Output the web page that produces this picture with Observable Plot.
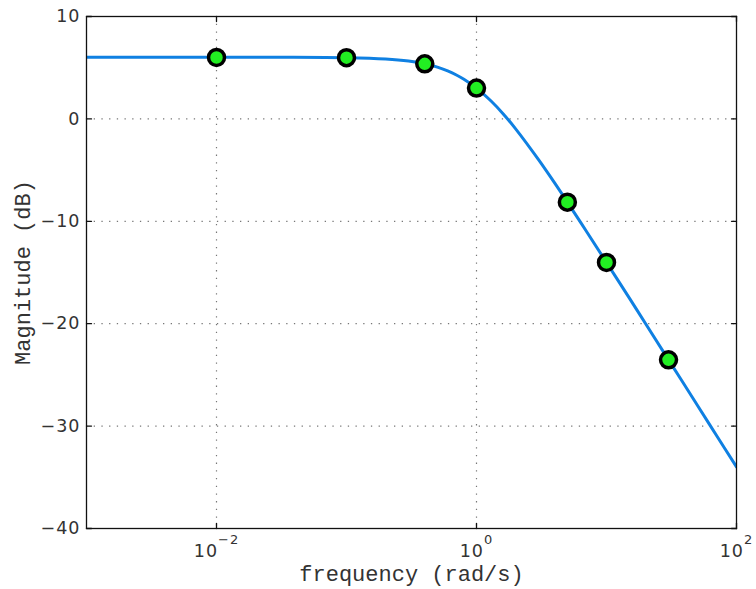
<!DOCTYPE html>
<html>
<head>
<meta charset="utf-8">
<script src="https://cdn.jsdelivr.net/npm/d3@7"></script>
<script src="https://cdn.jsdelivr.net/npm/@observablehq/plot@0.6"></script>
<style>
  html, body { margin: 0; padding: 0; background: #fff; }
  g[aria-label="y-axis tick label"] text, g[aria-label="x-axis tick label"] text { letter-spacing: 1px; }
</style>
</head>
<body>
<div id="chart"></div>
<script>
// Curve (frequency in rad/s, magnitude in dB)
const curveFreq = [0.001, 0.003, 0.01, 0.03, 0.1, 0.2, 0.3, 0.4, 0.5, 0.6, 0.7, 0.8, 1, 1.3, 1.6, 2, 3, 4, 5, 7, 10, 15, 20, 30, 50, 70, 100];
const curveMag  = [6.02, 6.02, 6.02, 6.02, 5.98, 5.85, 5.65, 5.38, 5.05, 4.68, 4.29, 3.87, 3.01, 1.72, 0.51, -0.97, -3.98, -6.28, -8.13, -10.97, -14.02, -17.5, -20.01, -23.53, -27.96, -30.9, -33.98];

// Marked points
const ptFreq = [0.01, 0.1, 0.4, 1, 5, 10, 30];
const ptMag  = [6.0, 5.98, 5.38, 3.01, -8.13, -14.02, -23.53];

// Ticks
const xTicks = [0.01, 1, 100];
const xTickBase = ["10", "10", "10"];
const xTickExp = ["\u22122", "0", "2"];
const yTicks = [10, 0, -10, -20, -30, -40];
const yGrid = [0, -10, -20, -30];
const xGrid = [0.01, 1];

const curve = curveFreq.map((f, i) => ({f, m: curveMag[i]}));
const points = ptFreq.map((f, i) => ({f, m: ptMag[i]}));

const tickShape = { draw(context, l) { context.moveTo(0, 0); context.lineTo(0, -l); } };
const tickFont = "DejaVu Sans";
const labelFont = "Liberation Mono";

const chart = Plot.plot({
  width: 756,
  height: 589,
  marginLeft: 86,
  marginRight: 20,
  marginTop: 16,
  marginBottom: 61,
  style: { background: "#fff", overflow: "visible" },
  x: { type: "log", domain: [1e-3, 1e2] },
  y: { domain: [-40, 10] },
  marks: [
    Plot.ruleX(xGrid, { stroke: "#777", strokeDasharray: "1.3,6.4", strokeWidth: 1.2 }),
    Plot.ruleY(yGrid, { stroke: "#777", strokeDasharray: "1.3,6.4", strokeWidth: 1.2 }),
    // inward ticks on all four sides
    Plot.vector(yTicks, { y: d => d, frameAnchor: "left", length: 5, rotate: 90, anchor: "start", shape: tickShape, stroke: "#111", strokeWidth: 1.3 }),
    Plot.vector(yTicks, { y: d => d, frameAnchor: "right", length: 5, rotate: -90, anchor: "start", shape: tickShape, stroke: "#111", strokeWidth: 1.3 }),
    Plot.vector(xTicks, { x: d => d, frameAnchor: "bottom", length: 5, rotate: 0, anchor: "start", shape: tickShape, stroke: "#111", strokeWidth: 1.3 }),
    Plot.vector(xTicks, { x: d => d, frameAnchor: "top", length: 5, rotate: 180, anchor: "start", shape: tickShape, stroke: "#111", strokeWidth: 1.3 }),
    Plot.axisY({ ticks: yTicks, tickSize: 0, tickPadding: 6, label: null, fontSize: 17.5, fontFamily: tickFont, fill: "#333", tickFormat: d => d < 0 ? "\u2212" + (-d) : String(d) }),
    Plot.axisX({ ticks: xTicks, tickSize: 0, tickPadding: 16, label: null, fontSize: 17.5, fontFamily: tickFont, fill: "#333", tickFormat: d => { const i = xTicks.indexOf(d); return xTickBase[i] + "|" + xTickExp[i]; } }),
    Plot.line(curve, { x: "f", y: "m", stroke: "#0f80e2", strokeWidth: 3, curve: "catmull-rom", clip: true }),
    Plot.dot(points, { x: "f", y: "m", r: 8, fill: "#22ee22", stroke: "#000", strokeWidth: 3.5 }),
    Plot.frame({ stroke: "#111", strokeWidth: 1.3 }),
    Plot.text(["Magnitude (dB)"], { frameAnchor: "left", dx: -64, rotate: -90, textAnchor: "middle", fontSize: 22, fontFamily: labelFont, fill: "#333", lineAnchor: "middle" }),
    Plot.text(["frequency (rad/s)"], { frameAnchor: "bottom", dy: 45, textAnchor: "middle", fontSize: 22, fontFamily: labelFont, fill: "#333", lineAnchor: "middle" })
  ]
});

// Render exponents of the x tick labels as superscripts
d3.select(chart).selectAll('g[aria-label="x-axis tick label"] text').each(function() {
  const parts = this.textContent.split("|");
  const t = d3.select(this);
  t.text(null);
  t.append("tspan").text(parts[0]);
  t.append("tspan").attr("dy", -13).attr("font-size", 13).text(parts[1]);
});

document.getElementById("chart").appendChild(chart);
</script>
</body>
</html>
